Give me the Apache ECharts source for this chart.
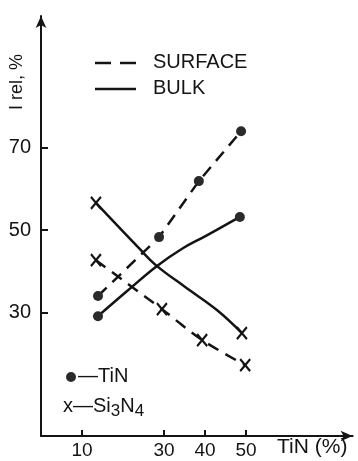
<!DOCTYPE html>
<html>
<head>
<meta charset="utf-8">
<script src="https://cdn.jsdelivr.net/npm/echarts@6/dist/echarts.min.js"></script>
<style>html,body{margin:0;padding:0;background:#fff}#c{width:358px;height:461px}</style>
</head>
<body>
<div id="c"></div>
<script>
// ---- data ----
const xTicks = [10, 30, 40, 50];
const yTicks = [30, 50, 70];
const surfaceTiN = [[13.9, 34.0], [28.8, 48.3], [38.5, 61.9], [48.8, 74.0]];
const bulkTiN = [[13.9, 29.1], [21, 35.2], [28.3, 41.3], [34.6, 45.6], [40, 48.5], [48.5, 53.2]];
const bulkTiNMarked = [0, 5];
const surfaceSi = [[13.4, 42.7], [29.5, 30.8], [39.3, 23.3], [49.8, 17.2]];
const bulkSi = [[13.4, 56.6], [23.9, 45.6], [28, 41.5], [35, 36.3], [42.9, 30.6], [49, 25.0]];
const bulkSiMarked = [0, 5];

const INK = '#141414';
const FONT = 'Liberation Sans';
const crossPath = 'path://M0,0L10,12M10,0L0,12';

function marked(arr, idx) {
  return arr.map((p, i) => idx.includes(i) ? { value: p } : { value: p, symbol: 'none' });
}

const chart = echarts.init(document.getElementById('c'));
chart.setOption({
  animation: false,
  backgroundColor: '#fff',
  grid: { left: 41, right: 5.4, top: 16, bottom: 25 },
  xAxis: {
    type: 'value', min: 0, max: 76,
    axisLine: { show: true, symbol: ['none', 'arrow'], symbolSize: [8, 12], lineStyle: { color: INK, width: 2 } },
    axisTick: { show: true, inside: true, length: 6, customValues: xTicks, lineStyle: { color: INK, width: 2 } },
    axisLabel: { customValues: xTicks, color: INK, fontFamily: FONT, fontSize: 19, margin: 5 },
    splitLine: { show: false }
  },
  yAxis: {
    type: 'value', min: 0, max: 102,
    axisLine: { show: true, symbol: ['none', 'arrow'], symbolSize: [8, 12], lineStyle: { color: INK, width: 2 } },
    axisTick: { show: true, inside: true, length: 7, customValues: yTicks, lineStyle: { color: INK, width: 2 } },
    axisLabel: { customValues: yTicks, color: INK, fontFamily: FONT, fontSize: 20, margin: 10 },
    splitLine: { show: false }
  },
  series: [
    {
      type: 'line', data: surfaceTiN, symbol: 'circle', symbolSize: 10,
      itemStyle: { color: '#2a2a2a' },
      lineStyle: { color: INK, width: 2.5, type: [12, 8] }
    },
    {
      type: 'line', data: marked(bulkTiN, bulkTiNMarked), smooth: 0.4, symbol: 'circle', symbolSize: 10, showAllSymbol: true,
      itemStyle: { color: '#2a2a2a' },
      lineStyle: { color: INK, width: 2.5 }
    },
    {
      type: 'line', data: surfaceSi, smooth: 0.3, symbol: crossPath, symbolSize: [10, 12],
      itemStyle: { color: 'none', borderColor: INK, borderWidth: 2.2 },
      lineStyle: { color: INK, width: 2.5, type: [12, 8] }
    },
    {
      type: 'line', data: marked(bulkSi, bulkSiMarked), smooth: 0.4, symbol: crossPath, symbolSize: [10, 12], showAllSymbol: true,
      itemStyle: { color: 'none', borderColor: INK, borderWidth: 2.2 },
      lineStyle: { color: INK, width: 2.5 }
    }
  ],
  graphic: [
    // y axis title
    { type: 'text', x: 8, y: 110, rotation: Math.PI / 2,
      style: { text: 'I rel, %', font: '18px "Liberation Sans"', fill: INK } },
    // x axis name
    { type: 'text', x: 277, y: 437,
      style: { text: 'TiN (%)', font: '21px "Liberation Sans"', fill: INK } },
    // line-style legend
    { type: 'line', shape: { x1: 95, y1: 63, x2: 111, y2: 63 }, style: { stroke: INK, lineWidth: 2.5 } },
    { type: 'line', shape: { x1: 120, y1: 63, x2: 136, y2: 63 }, style: { stroke: INK, lineWidth: 2.5 } },
    { type: 'text', x: 153, y: 52, style: { text: 'SURFACE', font: '20px "Liberation Sans"', fill: INK } },
    { type: 'line', shape: { x1: 95, y1: 89, x2: 136, y2: 89 }, style: { stroke: INK, lineWidth: 2.5 } },
    { type: 'text', x: 153, y: 78, style: { text: 'BULK', font: '20px "Liberation Sans"', fill: INK } },
    // marker legend
    { type: 'circle', shape: { cx: 71, cy: 377, r: 5 }, style: { fill: '#2a2a2a' } },
    { type: 'text', x: 78, y: 366, style: { text: '—TiN', font: '20px "Liberation Sans"', fill: INK } },
    { type: 'text', x: 63, y: 393, style: {
        text: 'x—Si{s|3}N{s|4}', font: '20px "Liberation Sans"', fill: INK,
        rich: { s: { fontSize: 17, fontFamily: FONT, fill: INK, padding: [10, 0, 0, 0] } }
      } }
  ]
});
</script>
</body>
</html>
